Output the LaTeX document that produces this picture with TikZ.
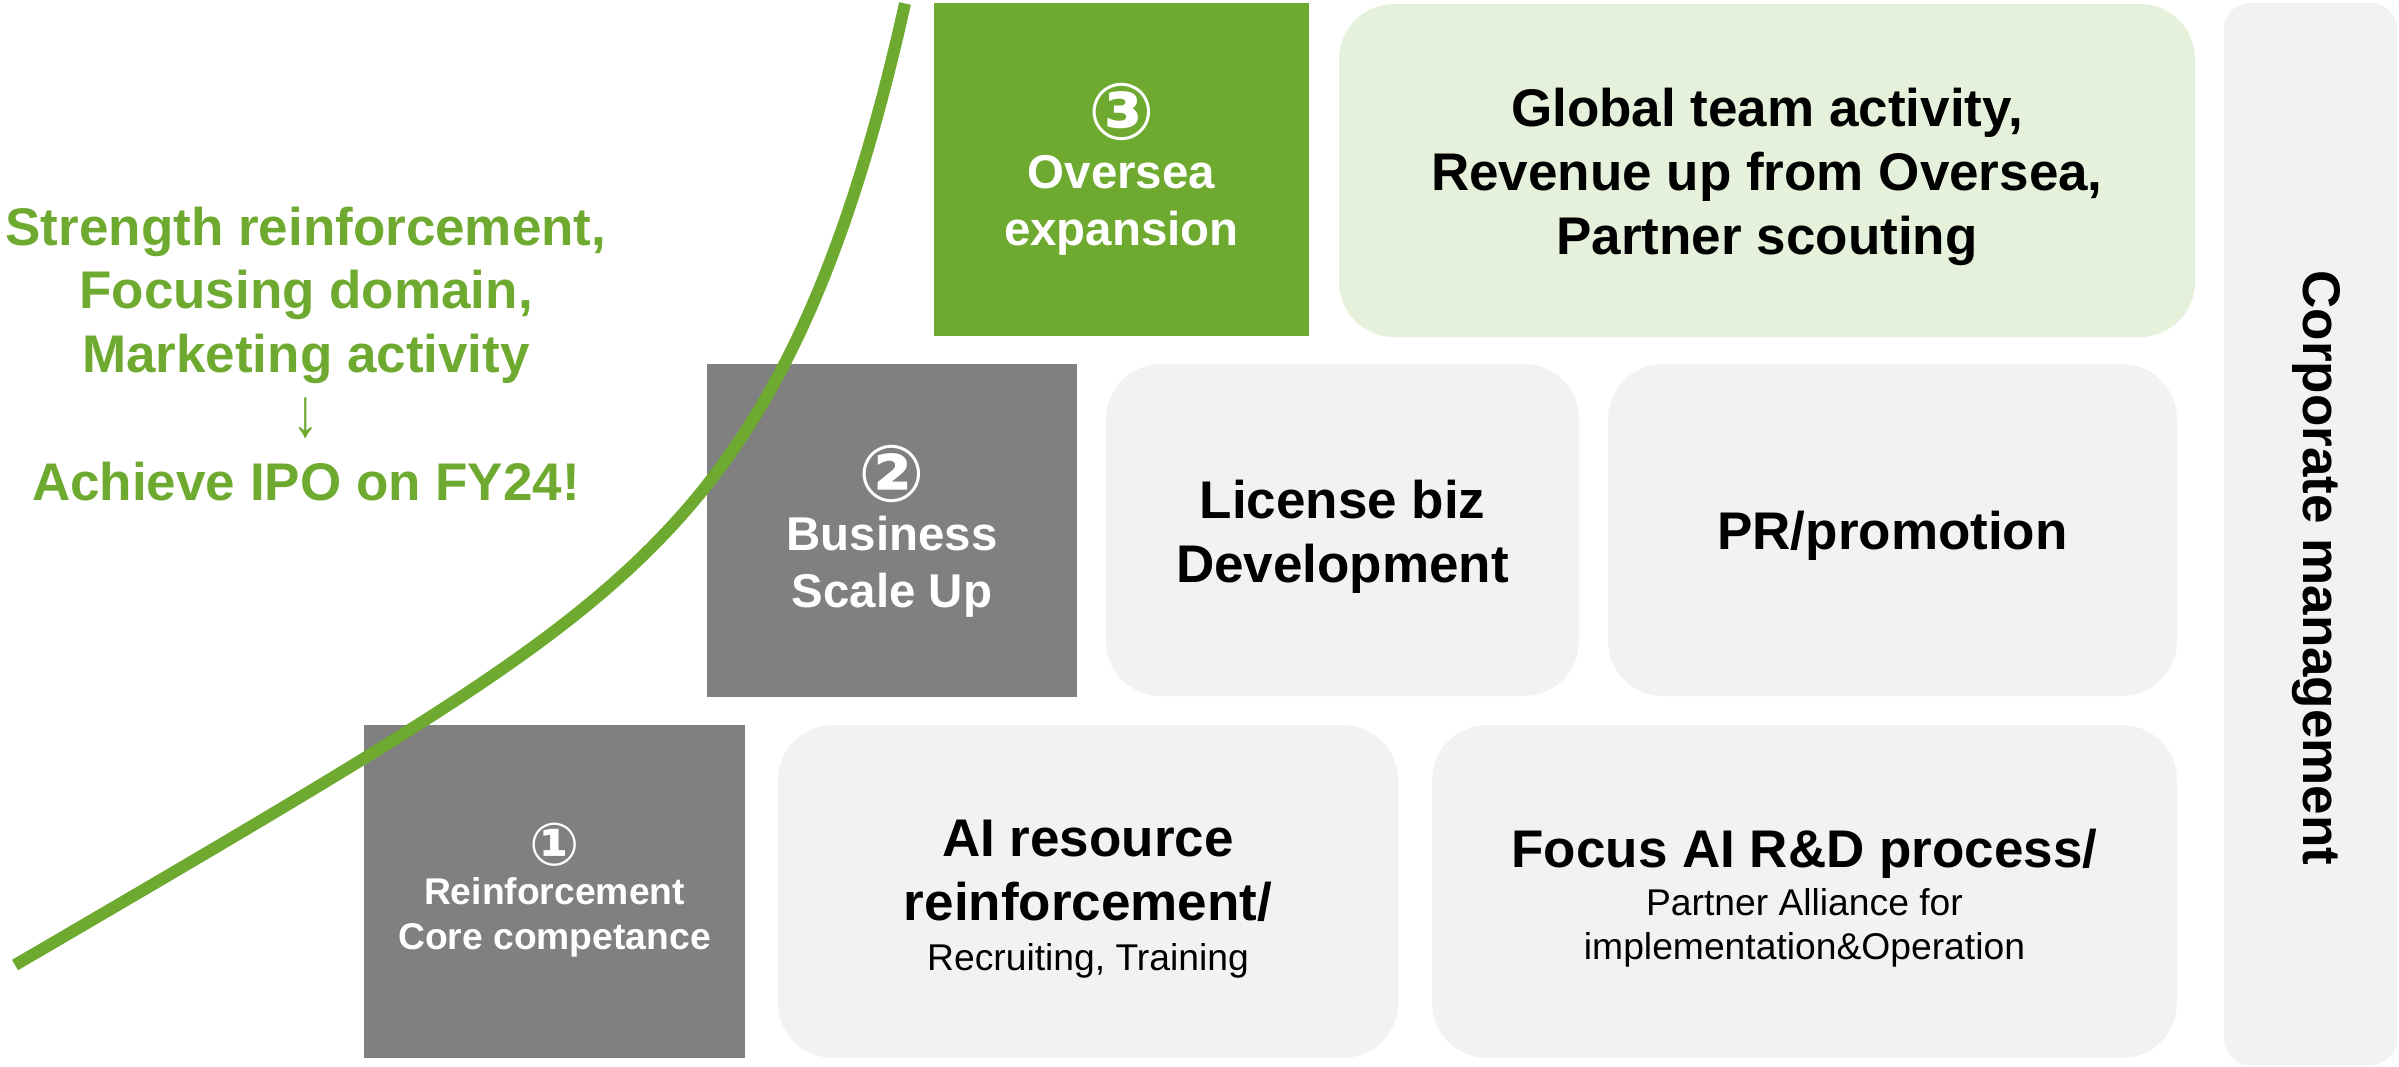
\documentclass[tikz,border=0pt]{standalone}
\usepackage{fontspec}
\setmainfont{Liberation Sans}
\newfontfamily\circfont{DejaVu Sans}
\definecolor{grn}{HTML}{6FAA30}
\definecolor{lgrn}{HTML}{E5F1DB}
\definecolor{gry}{HTML}{808080}
\definecolor{lgry}{HTML}{F2F2F2}
\newcommand\myBig{\fontsize{15.08pt}{18.2pt}\selectfont}
\newcommand\myMid{\fontsize{13.5pt}{16.4pt}\selectfont}
\newcommand\mySml{\fontsize{10.6pt}{12.8pt}\selectfont}
\newcommand\circBig[1]{\raisebox{-0.9mm}{\circfont\bfseries\fontsize{22.4pt}{22.4pt}\selectfont #1}}
\newcommand\circSml[1]{\raisebox{-0.6mm}{\circfont\fontsize{16.9pt}{16.9pt}\selectfont #1}}
\tikzset{
  box/.style={inner sep=0pt, anchor=center},
  darkbox/.style={box, fill=gry},
  greenbox/.style={box, fill=grn},
  softbox/.style={box, fill=lgry, rounded corners=5.5mm},
  softgreen/.style={box, fill=lgrn, rounded corners=5.5mm},
  boxtext/.style={inner sep=0pt, align=center, anchor=center},
  curveline/.style={draw=grn, line width=1.2mm},
}
\begin{document}
\begin{tikzpicture}[x=0.1mm,y=-0.1mm]
\useasboundingbox (0,0) rectangle (2399,1066);
% boxes
\node[greenbox, minimum width=37.5mm, minimum height=33.3mm] (b3) at (1121.5,169.5) {};
\node[softgreen, minimum width=85.6mm, minimum height=33.3mm] (glob) at (1767,170.5) {};
\node[box, fill=lgry, rounded corners=2.6mm, minimum width=17.3mm, minimum height=106.2mm] (corp) at (2310.5,534) {};
\node[darkbox, minimum width=37mm, minimum height=33.3mm] (b2) at (892,530.5) {};
\node[softbox, minimum width=47.3mm, minimum height=33.2mm] (lic) at (1342.5,530) {};
\node[softbox, minimum width=56.9mm, minimum height=33.2mm] (pr) at (1892.5,530) {};
\node[darkbox, minimum width=38.1mm, minimum height=33.3mm] (b1) at (554.5,891.5) {};
\node[softbox, minimum width=62mm, minimum height=33.3mm] (ai) at (1088,891.5) {};
\node[softbox, minimum width=74.5mm, minimum height=33.3mm] (focus) at (1804.5,891.5) {};
% texts
\node[boxtext, text=white, font=\myMid\bfseries] (b3t) at (b3.center)
  {\circBig{③}\\Oversea\\expansion};
\node[boxtext, font=\myBig\bfseries] (globt) at ([yshift=-0.6mm]glob.center)
  {Global team activity,\\Revenue up from Oversea,\\Partner scouting};
\node[rotate=-90, inner sep=0pt, font=\myBig\bfseries] (corpt) at (2316,568) {Corporate management};
\node[boxtext, text=white, font=\myMid\bfseries] (b2t) at ([yshift=-0.1mm]b2.center)
  {\circBig{②}\\Business\\Scale Up};
\node[boxtext, font=\myBig\bfseries] (lict) at ([yshift=-0.7mm]lic.center)
  {License biz\\Development};
\node[boxtext, font=\myBig\bfseries] (prt) at ([yshift=-0.6mm]pr.center)
  {PR/promotion};
\node[boxtext, text=white, font=\mySml\bfseries] (b1t) at ([yshift=0.1mm]b1.center)
  {\circSml{①}\\Reinforcement\\Core competance};
\node[boxtext, font=\myBig\bfseries] (ait) at ([yshift=-0.8mm]ai.center)
  {AI resource\\reinforcement/\\[-1.4mm]{\mySml\mdseries Recruiting, Training}};
\node[boxtext, font=\myBig\bfseries] (focust) at ([yshift=-0.7mm]focus.center)
  {Focus AI R\&D process/\\[-1.6mm]{\mySml\mdseries Partner Alliance for}\\[-2mm]{\mySml\mdseries implementation\&Operation}};
% growth curve
\draw[curveline] plot[domain=15:905, samples=120, smooth, variable=\t]
  (\t, {973.9 - 0.5818*\t - 0.15376*exp(0.0088*\t)});
% left text
\node[boxtext, text=grn, font=\myBig\bfseries] (goal) at (306,354)
  {Strength reinforcement,\\Focusing domain,\\Marketing activity\\{\mdseries\scalebox{1}[1.3]{↓}}\\Achieve IPO on FY24!};
\end{tikzpicture}
\end{document}
